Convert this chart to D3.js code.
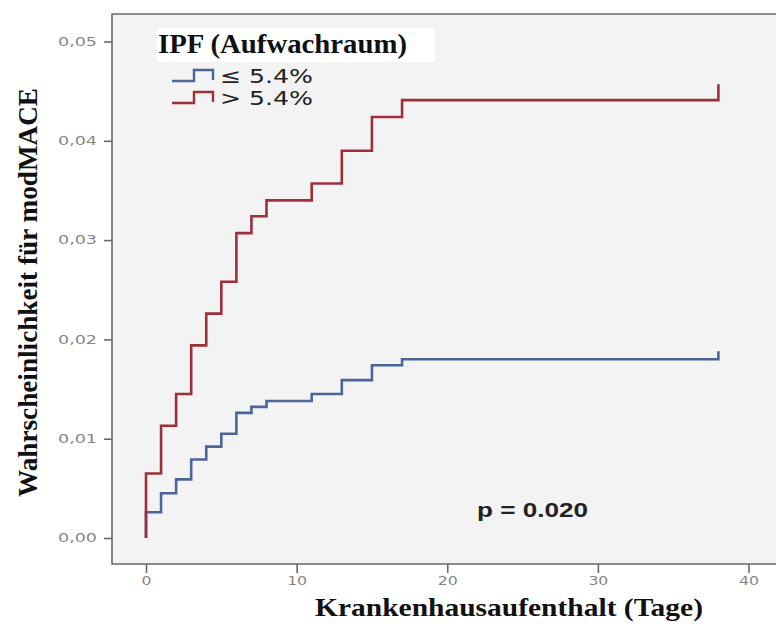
<!DOCTYPE html>
<html>
<head>
<meta charset="utf-8">
<script src="https://cdn.jsdelivr.net/npm/d3@7"></script>
<style>
  html, body { margin: 0; padding: 0; background: #fff; }
  svg { display: block; }
</style>
</head>
<body>
<svg id="chart" width="776" height="624"></svg>
<script>
// ---- data ----
const eventDays = [0, 1, 2, 3, 4, 5, 6, 7, 8, 11, 13, 15, 17, 38];
const lowIPF  = [0.0026, 0.0045, 0.0059, 0.0079, 0.0092, 0.0105, 0.0126, 0.0132, 0.0138, 0.0145, 0.0159, 0.0174, 0.0180, 0.0188];
const highIPF = [0.0065, 0.0113, 0.0145, 0.0194, 0.0226, 0.0258, 0.0307, 0.0324, 0.0340, 0.0357, 0.0390, 0.0424, 0.0441, 0.0457];
const seriesNames = ["≤ 5.4%", "> 5.4%"];
const seriesColors = ["#4b659c", "#9e2f3a"];
const xTicks = [0, 10, 20, 30, 40];
const yTicks = [0, 0.01, 0.02, 0.03, 0.04, 0.05];
const legendTitle = "IPF (Aufwachraum)";
const xTitle = "Krankenhausaufenthalt (Tage)";
const yTitle = "Wahrscheinlichkeit für modMACE";
const pText = "p = 0.020";

// ---- layout ----
const svg = d3.select("#chart");
const frame = {left: 112, top: 14, right: 790, bottom: 564};
const x = d3.scaleLinear().domain([0, 40]).range([146, 748.5]);
const y = d3.scaleLinear().domain([0, 0.05]).range([538, 41.5]);

// plot background
svg.append("rect")
  .attr("x", frame.left).attr("y", frame.top)
  .attr("width", frame.right - frame.left).attr("height", frame.bottom - frame.top)
  .attr("fill", "#f3f3f3");

// frame lines
svg.append("path")
  .attr("d", `M${frame.right},${frame.top} H${frame.left} V${frame.bottom} H${frame.right}`)
  .attr("fill", "none").attr("stroke", "#6a6a6a").attr("stroke-width", 1.6);

// axes
const yAxis = d3.axisLeft(y).tickValues(yTicks).tickSize(8).tickPadding(7)
  .tickFormat(d => d3.format(".2f")(d).replace(".", ","));
const gy = svg.append("g").attr("transform", `translate(${frame.left},0)`).call(yAxis);
const xAxis = d3.axisBottom(x).tickValues(xTicks).tickSize(9).tickPadding(4).tickFormat(d3.format("d"));
const gx = svg.append("g").attr("transform", `translate(0,${frame.bottom})`).call(xAxis);
[gx, gy].forEach(g => {
  g.select(".domain").remove();
  g.selectAll(".tick line").attr("stroke", "#6a6a6a").attr("stroke-width", 1.6);
  g.selectAll(".tick text")
    .attr("fill", "#858585")
    .style("font-family", "'DejaVu Sans', sans-serif")
    .style("font-size", "11.5px");
});
gy.selectAll(".tick text").attr("textLength", 39).attr("lengthAdjust", "spacingAndGlyphs");
gx.selectAll(".tick text").each(function(d) {
  const s = d3.select(this);
  s.attr("textLength", String(d).length * 10).attr("lengthAdjust", "spacingAndGlyphs");
});

// step lines
const series = [lowIPF, highIPF];
const line = d3.line().x(d => x(d[0])).y(d => y(d[1])).curve(d3.curveStepAfter);
series.forEach((vals, i) => {
  const pts = [[0, 0]].concat(eventDays.map((d, j) => [d, vals[j]]));
  svg.append("path")
    .datum(pts)
    .attr("d", line)
    .attr("fill", "none")
    .attr("stroke", seriesColors[i])
    .attr("stroke-width", 2.6)
    .attr("stroke-linejoin", "miter")
    .attr("stroke-linecap", "butt");
});

// legend
svg.append("rect").attr("x", 157).attr("y", 28).attr("width", 278).attr("height", 34).attr("fill", "#ffffff");
svg.append("text").attr("x", 158).attr("y", 53)
  .text(legendTitle)
  .style("font-family", "'Liberation Serif', 'Times New Roman', serif")
  .style("font-weight", "bold").style("font-size", "27px")
  .attr("fill", "#111")
  .attr("textLength", 249).attr("lengthAdjust", "spacingAndGlyphs");

const legY = [81, 103];
seriesNames.forEach((name, i) => {
  const ly = legY[i];
  svg.append("path")
    .attr("d", `M172,${ly} H194 V${ly - 11} H213 V${ly - 1}`)
    .attr("fill", "none").attr("stroke", seriesColors[i]).attr("stroke-width", 2.4);
  svg.append("text").attr("x", 220).attr("y", ly + 2)
    .text(name)
    .style("font-family", "'DejaVu Sans', Verdana, sans-serif")
    .style("font-size", "20px")
    .attr("fill", "#222")
    .attr("textLength", 93).attr("lengthAdjust", "spacingAndGlyphs");
});

// p value
svg.append("text").attr("x", 477).attr("y", 517)
  .text(pText)
  .style("font-family", "'Liberation Sans', Arial, sans-serif")
  .style("font-weight", "bold").style("font-size", "20px")
  .attr("fill", "#222")
  .attr("textLength", 111).attr("lengthAdjust", "spacingAndGlyphs");

// axis titles
svg.append("text").attr("x", 509).attr("y", 616)
  .attr("text-anchor", "middle")
  .text(xTitle)
  .style("font-family", "'Liberation Serif', 'Times New Roman', serif")
  .style("font-weight", "bold").style("font-size", "25px")
  .attr("fill", "#111")
  .attr("textLength", 388).attr("lengthAdjust", "spacingAndGlyphs");

svg.append("text")
  .attr("transform", "translate(37,292.5) rotate(-90)")
  .attr("text-anchor", "middle")
  .text(yTitle)
  .style("font-family", "'Liberation Serif', 'Times New Roman', serif")
  .style("font-weight", "bold").style("font-size", "27px")
  .attr("fill", "#111")
  .attr("textLength", 409).attr("lengthAdjust", "spacingAndGlyphs");
</script>
</body>
</html>
